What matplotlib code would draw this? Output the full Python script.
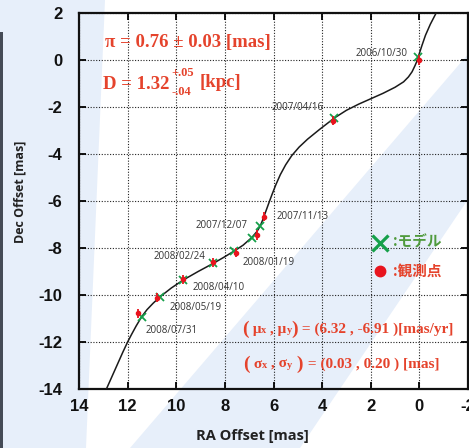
import numpy as np
import matplotlib
matplotlib.use("Agg")
import matplotlib.pyplot as plt
from matplotlib.patches import Polygon, Rectangle

plt.rcParams["axes.unicode_minus"] = False

# =============================
# Data
# =============================
dates = ["2006/10/30", "2007/04/16", "2007/11/13", "2007/12/07", "2008/01/19",
         "2008/02/24", "2008/04/10", "2008/05/19", "2008/07/31"]

obs_ra = [0.00, 3.55, 6.38, 6.66, 7.54, 8.47, 9.71, 10.78, 11.56]
obs_dec = [0.00, -2.58, -6.67, -7.45, -8.20, -8.61, -9.33, -10.11, -10.78]
err_ra = 0.03
err_dec = 0.20

model_ra = [0.04, 3.50, 6.55, 6.90, 7.62, 8.47, 9.71, 10.67, 11.42]
model_dec = [0.14, -2.47, -7.07, -7.56, -8.13, -8.65, -9.36, -10.08, -10.92]

curve_ra = [12.89, 12.70, 12.45, 12.20, 12.00, 11.85, 11.65, 11.42, 11.20, 10.95,
            10.67, 10.20, 9.71, 9.10, 8.47, 8.05, 7.62, 7.25, 6.90, 6.68,
            6.55, 6.45, 6.33, 6.20, 6.06, 5.90, 5.72, 5.50, 5.25, 4.95,
            4.60, 4.10, 3.50, 3.00, 2.50, 2.00, 1.50, 1.00, 0.65, 0.45,
            0.30, 0.18, 0.08, 0.01, -0.10, -0.25, -0.45, -0.69]
curve_dec = [-14.04, -13.60, -13.02, -12.44, -12.00, -11.70, -11.32, -10.92, -10.62, -10.35,
             -10.08, -9.70, -9.36, -9.00, -8.65, -8.40, -8.13, -7.88, -7.56, -7.30,
             -7.07, -6.82, -6.48, -6.11, -5.72, -5.30, -4.88, -4.46, -4.07, -3.71,
             -3.37, -2.95, -2.47, -2.14, -1.88, -1.65, -1.42, -1.16, -0.93, -0.72,
             -0.50, -0.24, 0.00, 0.25, 0.60, 1.05, 1.52, 2.00]

# label centres (data coords)
label_ra = [1.54, 4.99, 4.79, 8.12, 6.18, 9.87, 8.26, 9.21, 10.17]
label_dec = [0.26, -2.00, -6.68, -7.06, -8.60, -8.38, -9.66, -10.55, -11.49]

xticks = np.arange(14, -3, -2)
yticks = np.arange(2, -15, -2)

# =============================
# Colours / fonts
# =============================
RED_TXT = "#e5432c"
RED_PT = "#e8141e"
GREEN_PT = "#16a04a"
GREEN_TXT = "#4f9a3c"
BLUE_BG = "#e7effa"
W, H = 469, 448

fig = plt.figure(figsize=(W / 100, H / 100), dpi=100, facecolor="white")


def fp(px, py):
    # pixel from top-left -> figure fraction
    return (px / W, 1 - py / H)


# background decoration
fig.patches.append(Polygon([fp(0, 0), fp(105, 0), fp(86, 448), fp(0, 448)],
                           closed=True, transform=fig.transFigure,
                           facecolor=BLUE_BG, edgecolor="none", zorder=-10))
fig.patches.append(Polygon([fp(130, 448), fp(469, 53), fp(469, 198), fp(300, 448)],
                           closed=True, transform=fig.transFigure,
                           facecolor=BLUE_BG, edgecolor="none", zorder=-10))
fig.patches.append(Rectangle(fp(0, 448), 2.5 / W, (448 - 32) / H,
                             transform=fig.transFigure, facecolor="#454b56",
                             edgecolor="none", zorder=-9))

# =============================
# Axes
# =============================
ax = fig.add_axes([79 / W, 59 / H, 389 / W, 376 / H])
ax.set_facecolor("none")
ax.set_xlim(14, -2)
ax.set_ylim(-14, 2)
ax.set_xticks(xticks)
ax.set_yticks(yticks)
ax.grid(True, color="#222222", linestyle=(0, (1, 1.5)), linewidth=0.8)
for s in ax.spines.values():
    s.set_linewidth(1.6)
    s.set_color("#111111")
ax.tick_params(direction="in", length=5, width=1.3, top=True, right=True)
ax.tick_params(axis="y", pad=12)
ax.tick_params(axis="x", pad=7)
for lab in ax.get_xticklabels() + ax.get_yticklabels():
    lab.set_family(["Liberation Sans Narrow", "Liberation Sans"])
    lab.set_weight("bold")
    lab.set_size(12)
    lab.set_color("#111111")

ax.plot(curve_ra, curve_dec, color="#1a1a1a", lw=1.1, zorder=3)
ax.plot(model_ra, model_dec, "x", color=GREEN_PT, ms=6, mew=1.3, zorder=4)
ax.errorbar(obs_ra, obs_dec, xerr=err_ra, yerr=err_dec, fmt="o", color=RED_PT,
            ms=3, elinewidth=1.3, capsize=0, zorder=5)

for d, lx, ly in zip(dates, label_ra, label_dec):
    ax.text(lx, ly, d, ha="center", va="center", fontsize=7,
            family=["Open Sans", "DejaVu Sans"], color="#333333")

# legend-like markers
ax.plot([1.62], [-7.79], "x", color=GREEN_PT, ms=11, mew=2.3, clip_on=False)
ax.plot([1.62], [-8.98], "o", color=RED_PT, ms=7.5, clip_on=False)
fig.text(*fp(393, 242), ":モデル", color=GREEN_TXT, fontsize=10.5, va="center",
         family=["Noto Sans CJK JP", "DejaVu Sans"], weight="bold")
fig.text(*fp(393, 271), ":観測点", color=RED_TXT, fontsize=10.5, va="center",
         family=["Noto Sans CJK JP", "DejaVu Sans"], weight="bold")

# axis labels
fig.text(*fp(252, 436), "RA Offset [mas]", ha="center", va="center", fontsize=10.5,
         weight="bold", family=["Open Sans", "DejaVu Sans"], color="#222222")
fig.text(*fp(20, 192), "Dec Offset [mas]", ha="center", va="center", fontsize=9,
         weight="bold", rotation=90, family=["Open Sans", "DejaVu Sans"], color="#222222")

# =============================
# Red annotations
# =============================
serif = dict(family=["Liberation Serif", "DejaVu Serif"], weight="bold", color=RED_TXT)
renderer = fig.canvas.get_renderer()


def put_pieces(px, py, pieces):
    # place text pieces one after another on a common baseline
    x = px
    for s, size, dy in pieces:
        t = fig.text(*fp(x, py + dy), s, fontsize=size, va="baseline", **serif)
        x += t.get_window_extent(renderer).width
    return x


put_pieces(105, 47, [("π = 0.76 ± 0.03 [mas]", 13.5, 0)])
xe = put_pieces(103, 89, [("D = 1.32", 13.5, 0)])
fig.text(*fp(xe + 2, 76), "+.05", fontsize=9, va="baseline", **serif)
fig.text(*fp(xe + 2, 95), "-.04", fontsize=9, va="baseline", **serif)
put_pieces(xe + 30, 87, [("[kpc]", 13.5, 0)])

put_pieces(242, 333, [("(", 14, 1), (" μ", 11, 0), ("x", 7.5, 0), (" , μ", 11, 0),
                      ("y", 7.5, 0), (")", 14, 1), (" = (6.32 , -6.91 )[mas/yr]", 11, 0)])
put_pieces(243, 368, [("(", 14, 1), (" σ", 11, 0), ("x", 7.5, 0), (" , σ", 11, 0),
                      ("y", 7.5, 0), (" )", 14, 1), (" = (0.03 , 0.20 ) [mas]", 11, 0)])

fig.savefig("out.png", dpi=100)
